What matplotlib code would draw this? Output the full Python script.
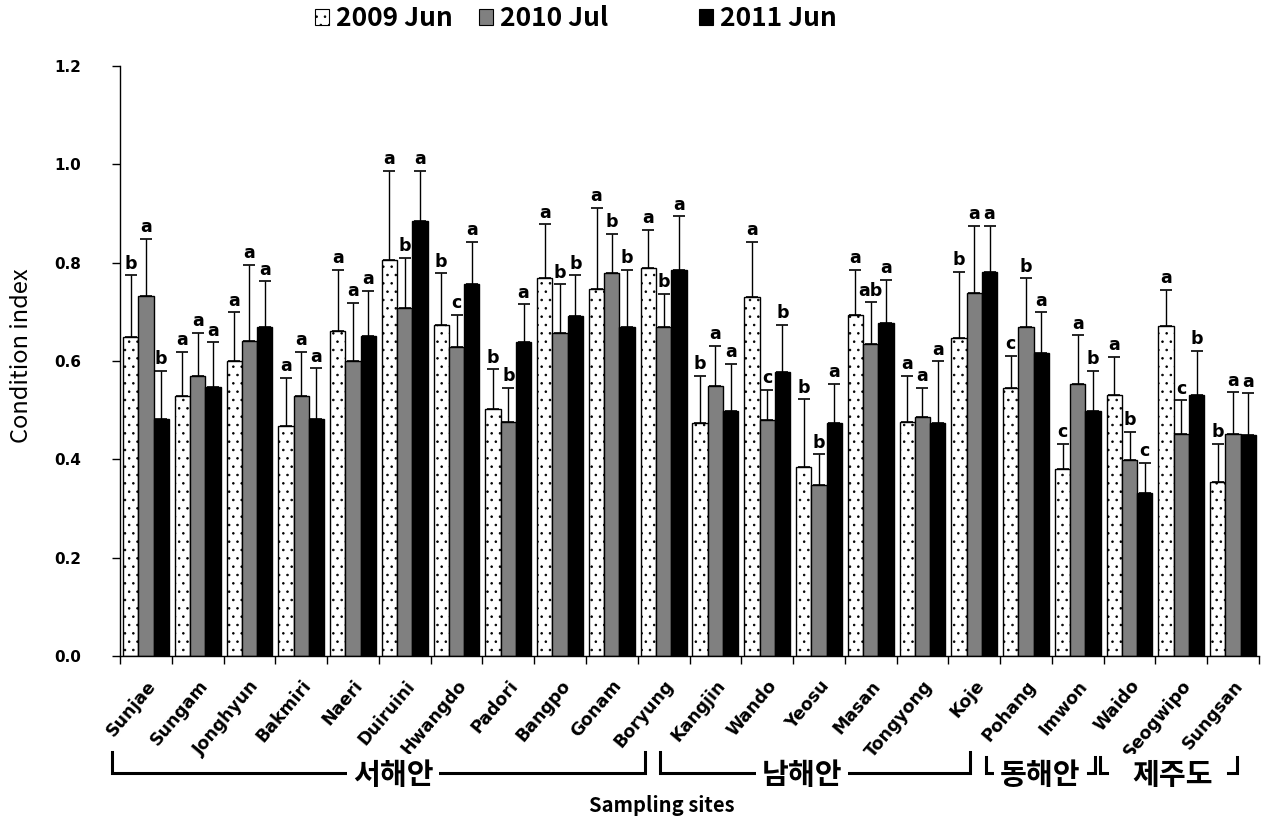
import matplotlib
matplotlib.use('Agg')
import matplotlib.pyplot as plt
import numpy as np
from matplotlib.patches import Patch
import matplotlib.transforms as mtransforms

# ---------------- data ----------------
sites = ["Sunjae", "Sungam", "Jonghyun", "Bakmiri", "Naeri", "Duiruini", "Hwangdo",
         "Padori", "Bangpo", "Gonam", "Boryung", "Kangjin", "Wando", "Yeosu", "Masan",
         "Tongyong", "Koje", "Pohang", "Imwon", "Waido", "Seogwipo", "Sungsan"]

series_names = ["2009 Jun", "2010 Jul", "2011 Jun"]

mean_2009 = [0.648, 0.529, 0.599, 0.467, 0.661, 0.805, 0.674, 0.502, 0.768, 0.746, 0.789,
             0.473, 0.730, 0.385, 0.693, 0.476, 0.646, 0.545, 0.380, 0.531, 0.672, 0.354]
sd_2009 = [0.126, 0.090, 0.100, 0.099, 0.124, 0.181, 0.104, 0.081, 0.110, 0.165, 0.078,
           0.097, 0.112, 0.137, 0.092, 0.093, 0.136, 0.066, 0.052, 0.077, 0.073, 0.078]

mean_2010 = [0.732, 0.569, 0.641, 0.528, 0.599, 0.708, 0.628, 0.475, 0.657, 0.778, 0.670,
             0.549, 0.479, 0.348, 0.635, 0.487, 0.738, 0.669, 0.553, 0.398, 0.451, 0.451]
sd_2010 = [0.116, 0.088, 0.154, 0.091, 0.119, 0.101, 0.065, 0.071, 0.099, 0.081, 0.067,
           0.081, 0.063, 0.062, 0.084, 0.059, 0.137, 0.099, 0.099, 0.058, 0.069, 0.085]

mean_2011 = [0.482, 0.547, 0.670, 0.482, 0.650, 0.884, 0.757, 0.638, 0.691, 0.670, 0.785,
             0.498, 0.578, 0.473, 0.678, 0.473, 0.782, 0.617, 0.498, 0.332, 0.531, 0.449]
sd_2011 = [0.098, 0.091, 0.092, 0.103, 0.093, 0.102, 0.085, 0.077, 0.083, 0.115, 0.109,
           0.096, 0.096, 0.080, 0.087, 0.126, 0.093, 0.082, 0.082, 0.060, 0.090, 0.085]

letters_2009 = ["b", "a", "a", "a", "a", "a", "b", "b", "a", "a", "a",
                "b", "a", "b", "a", "a", "b", "c", "c", "a", "a", "b"]
letters_2010 = ["a", "a", "a", "a", "a", "b", "c", "b", "b", "b", "b",
                "a", "c", "b", "ab", "a", "a", "b", "a", "b", "c", "a"]
letters_2011 = ["b", "a", "a", "a", "a", "a", "a", "a", "b", "b", "a",
                "a", "b", "a", "a", "a", "a", "a", "b", "c", "b", "a"]

yticks = [0.0, 0.2, 0.4, 0.6, 0.8, 1.0, 1.2]

# regions: (label, start group, end group)
regions = [("서해안", 0, 11), ("남해안", 11, 17), ("동해안", 17, 19), ("제주도", 19, 22)]

# ---------------- figure ----------------
plt.rcParams['hatch.linewidth'] = 0.6
W, H = 1272, 818
fig = plt.figure(figsize=(W / 100, H / 100), dpi=100)
ax = fig.add_axes([120 / W, 1 - 656 / H, (1259 - 120) / W, (656 - 66) / H])

n = len(sites)
x = np.arange(n) + 0.5
bw = 0.295
means = [mean_2009, mean_2010, mean_2011]
sds = [sd_2009, sd_2010, sd_2011]
lets = [letters_2009, letters_2010, letters_2011]
faces = ["white", "#808080", "black"]
hatches = ["..", None, None]

for k in range(3):
    xs = x + (k - 1) * bw
    ax.bar(xs, means[k], width=bw, color=faces[k], edgecolor="black",
           linewidth=1.0, hatch=hatches[k], zorder=2)
    ax.errorbar(xs, means[k], yerr=[np.zeros(n), sds[k]], fmt="none",
                ecolor="black", elinewidth=1.0, capsize=4, capthick=1.2, zorder=3)
    for xi, m, s, L in zip(xs, means[k], sds[k], lets[k]):
        ax.annotate(L, (xi, m + s), xytext=(0, 2), textcoords="offset points",
                    ha="center", va="bottom", fontsize=12.5, fontweight="bold",
                    family="DejaVu Sans")

ax.set_xlim(0, n)
ax.set_ylim(0, 1.2)
ax.set_yticks(yticks)
ax.set_yticklabels([f"{v:.1f}" for v in yticks], fontsize=11, fontweight="bold",
                   family="DejaVu Sans")
ax.tick_params(axis="y", direction="out", length=6, width=1, pad=22)

ax.set_xticks(np.arange(n + 1))
ax.set_xticklabels([])
ax.tick_params(axis="x", which="major", direction="out", length=6, width=1)
ax.set_xticks(x, minor=True)
ax.set_xticklabels(sites, minor=True, rotation=50, ha="right", va="top",
                   rotation_mode="anchor", fontsize=12.5, fontweight="bold",
                   family="DejaVu Sans")
ax.tick_params(axis="x", which="minor", length=0, pad=15)

for sp in ["top", "right"]:
    ax.spines[sp].set_visible(False)
for sp in ["left", "bottom"]:
    ax.spines[sp].set_linewidth(1.0)

ax.set_ylabel("Condition index", fontsize=17, family="Noto Sans CJK KR",
              fontweight="medium", va="center")
ax.yaxis.set_label_coords((21 - 120) / (1259 - 120), (656 - 356) / (656 - 66))

# ---------------- legend ----------------
handles = [Patch(facecolor=faces[k], edgecolor="black", hatch=hatches[k], linewidth=0.8)
           for k in range(3)]
leg_x = [291 / W, 455 / W, 675 / W]
for k in range(3):
    fig.legend([handles[k]], [series_names[k]], loc="center left",
               bbox_to_anchor=(leg_x[k], 1 - 19 / H), frameon=False,
               handlelength=0.55, handleheight=0.55, handletextpad=0.25,
               prop={"family": "Noto Sans CJK KR", "weight": "bold", "size": 19})

# ---------------- region brackets ----------------
trans = mtransforms.blended_transform_factory(ax.transData, fig.transFigure)


def fy(py):
    return 1 - py / H


def xd(px):
    return (px - 120.7) / 51.8


lw = 2.2
y_line = fy(773)
kw = dict(transform=trans, color="black", lw=lw, clip_on=False, solid_joinstyle="miter")
# 서해안
ax.plot([xd(113), xd(113), xd(646), xd(646)], [fy(752), y_line, y_line, fy(752)], **kw)
# 남해안
ax.plot([xd(661), xd(661), xd(971), xd(971)], [fy(752), y_line, y_line, fy(752)], **kw)
# 동해안 / 제주도 small corners
ax.plot([xd(987), xd(987), xd(995)], [fy(757), y_line, y_line], **kw)
ax.plot([xd(1089), xd(1096), xd(1096)], [y_line, y_line, fy(757)], **kw)
ax.plot([xd(1101), xd(1101), xd(1108)], [fy(757), y_line, y_line], **kw)
ax.plot([xd(1229), xd(1238), xd(1238)], [y_line, y_line, fy(757)], **kw)

region_cx = [394, 803, 1041, 1174]
for (name, a, b), cx in zip(regions, region_cx):
    ax.text(xd(cx), fy(775), name, transform=trans, ha="center", va="center",
            fontsize=21, fontweight="bold", family="Noto Sans CJK KR",
            bbox=dict(facecolor="white", edgecolor="none", pad=4), clip_on=False, zorder=5)

fig.text(662 / W, fy(805), "Sampling sites", ha="center", va="center",
         fontsize=14.5, fontweight="bold", family="Noto Sans CJK KR")

fig.savefig("out.png", dpi=100)
